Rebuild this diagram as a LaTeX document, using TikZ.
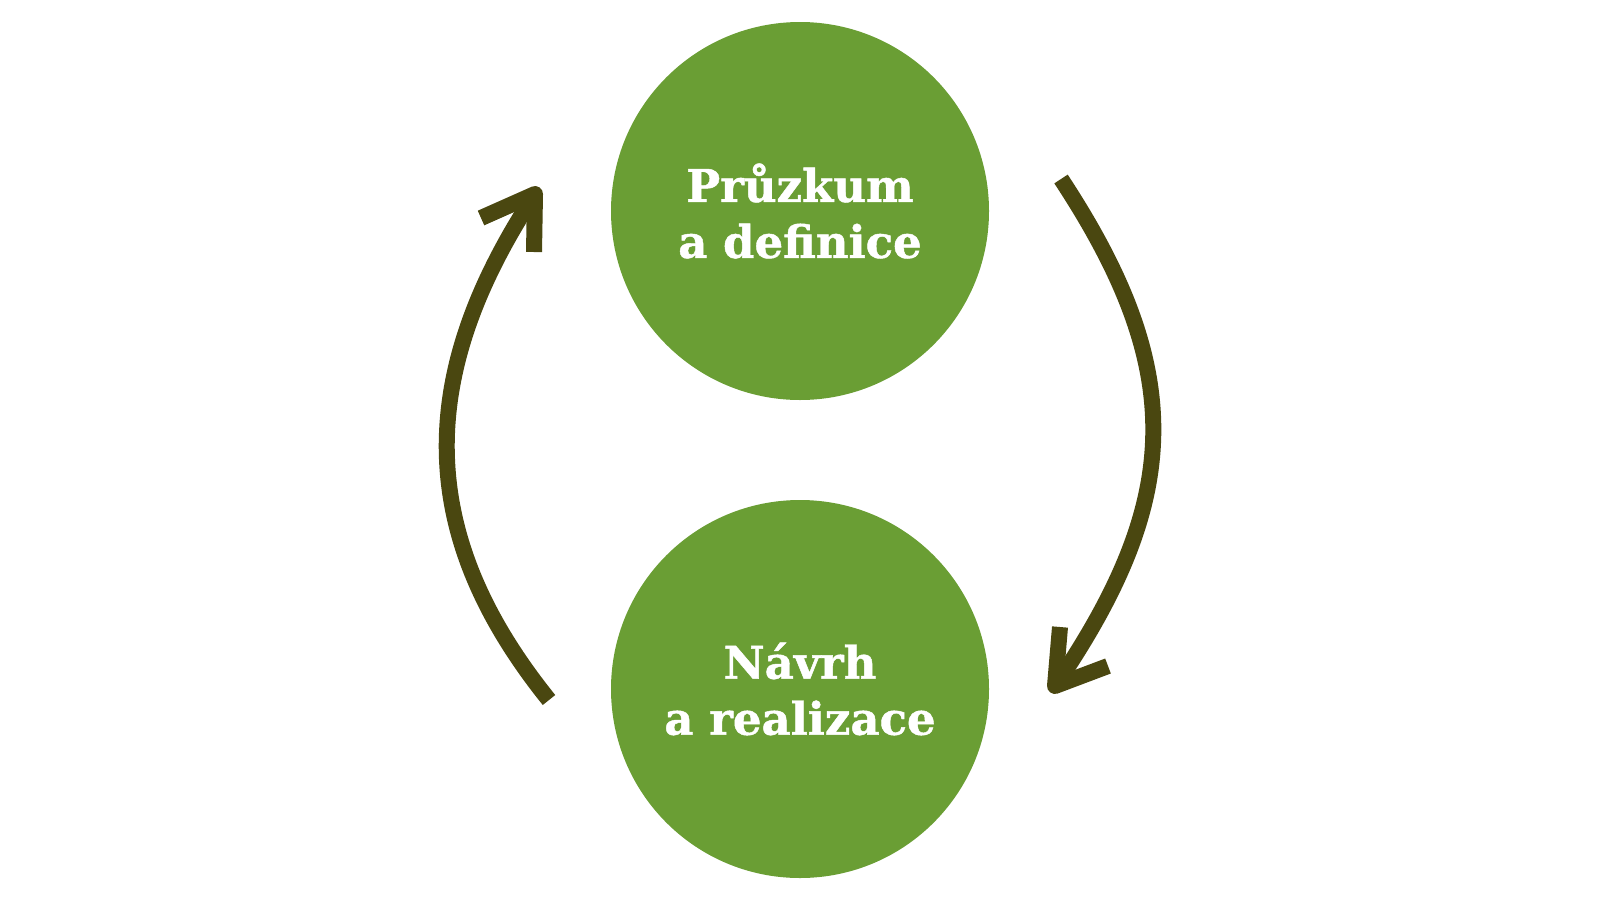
\documentclass[tikz,border=0pt]{standalone}
\usepackage{fontspec}
\setmainfont{DejaVu Serif}[BoldFeatures={FakeBold=1}]
\definecolor{circgreen}{RGB}{106,158,52}
\definecolor{arrowolive}{RGB}{74,71,16}
\begin{document}
\begin{tikzpicture}[x=0.5pt,y=-0.5pt,
  stage/.style={circle,fill=circgreen,minimum size=189pt,inner sep=0pt,
    text=white,align=center,font=\fontsize{22.5}{28}\selectfont\bfseries},
  shaft/.style={draw=arrowolive,line width=8pt,line cap=butt},
  barb/.style={draw=arrowolive,line width=8pt,line cap=butt,line join=round}]
\useasboundingbox (0,0) rectangle (1600,900);
\node[stage] (top) at (800,211) {Průzkum\\a definice};
\node[stage] (bot) at (800,689) {Návrh\\a realizace};
% right arrow
\coordinate (rs) at (1061,179);
\coordinate (rt) at (1055,686);
\coordinate (ra1) at (1060,627);
\coordinate (ra2) at (1108,666);
\draw[shaft] (rs) .. controls (1188,372) and (1182,500) .. (rt);
\draw[barb] (ra1) -- (rt) -- (ra2);
% left arrow
\coordinate (ls) at (549,700);
\coordinate (lt) at (535,194);
\coordinate (la1) at (534,252);
\coordinate (la2) at (481,218);
\draw[shaft] (ls) .. controls (412,530) and (418,372) .. (lt);
\draw[barb] (la1) -- (lt) -- (la2);
\end{tikzpicture}
\end{document}
